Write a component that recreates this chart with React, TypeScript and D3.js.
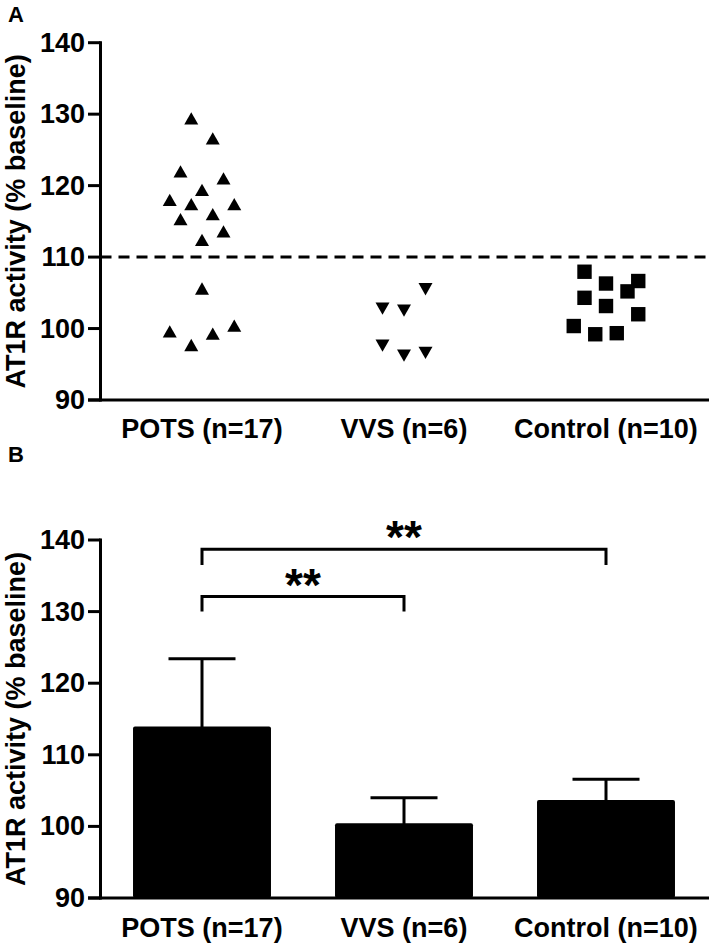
import React from "react";
import * as d3 from "d3";

// ---------- DATA ----------
const categories = ["POTS (n=17)", "VVS (n=6)", "Control (n=10)"];

// Panel A individual values
const potsValues = [129.4, 126.6, 122.0, 121.0, 119.4, 118.0, 117.4, 117.4, 116.0, 115.3, 113.6, 112.4, 105.6, 99.6, 97.7, 99.3, 100.4];
const potsSlots = [-1, 1, -2, 2, 0, -3, -1, 3, 1, -2, 2, 0, 0, -3, -1, 1, 3];
const vvsValues = [105.5, 102.8, 102.5, 97.6, 96.2, 96.6];
const vvsSlots = [2, -2, 0, -2, 0, 2];
const controlValues = [107.95, 106.3, 106.65, 105.2, 104.3, 103.15, 102.0, 100.35, 99.2, 99.35];
const controlSlots = [-2, 0, 3, 2, -2, 0, 3, -3, -1, 1];
const thresholdValue = 110;

// Panel B means and SD
const barMeans = [113.8, 100.3, 103.55];
const barSD = [9.6, 3.7, 3.05];

// significance comparisons (from index, to index, bracket level, leg end, label)
const compFrom = [0, 0];
const compTo = [2, 1];
const compLevel = [138.7, 132.1];
const compLegEnd = [136.5, 130.0];
const compLabel = ["**", "**"];

const yTicks = [90, 100, 110, 120, 130, 140];
const yTitle = "AT1R activity (% baseline)";
const panelLabels = ["A", "B"];

// ---------- LAYOUT ----------
const W = 709;
const H = 943;
const axisX = 100.5;
const FONT = "'Liberation Sans', Arial, Helvetica, sans-serif";
const slotPx = 10.75;

const xBand = d3.scaleBand<string>().domain(categories).range([101, 707]);
const xBar = d3
  .scaleBand<string>()
  .domain(categories)
  .range([101, 707])
  .paddingInner(0.317)
  .paddingOuter(0.1585);
const cx = (c: string) => (xBand(c) as number) + xBand.bandwidth() / 2;

const yA = d3.scaleLinear().domain([90, 140]).range([400, 42.7]);
const yB = d3.scaleLinear().domain([90, 140]).range([898, 540]);

const triUp = (s: number, h: number) => `M0,${-h / 2}L${s / 2},${h / 2}L${-s / 2},${h / 2}Z`;
const triDown = (s: number, h: number) => `M0,${h / 2}L${s / 2},${-h / 2}L${-s / 2},${-h / 2}Z`;

function YAxis({ y, top, bottom }: { y: d3.ScaleLinear<number, number>; top: number; bottom: number }) {
  return (
    <g>
      <line x1={axisX} x2={axisX} y1={top - 1.5} y2={bottom + 1.5} stroke="#000" strokeWidth={3} />
      {yTicks.map((t) => (
        <g key={t}>
          <line x1={88} x2={axisX} y1={y(t)} y2={y(t)} stroke="#000" strokeWidth={3} />
          <text
            x={85}
            y={y(t)}
            textAnchor="end"
            dominantBaseline="central"
            fontFamily={FONT}
            fontWeight="bold"
            fontSize={27}
            fill="#000"
          >
            {t}
          </text>
        </g>
      ))}
      <line x1={88} x2={W} y1={bottom} y2={bottom} stroke="#000" strokeWidth={3} />
      <text
        transform={`translate(25,${(top + bottom) / 2}) rotate(-90)`}
        textAnchor="middle"
        fontFamily={FONT}
        fontWeight="bold"
        fontSize={27}
        fill="#000"
      >
        {yTitle}
      </text>
    </g>
  );
}

function CatLabels({ yPos }: { yPos: number }) {
  return (
    <g>
      {categories.map((c) => (
        <text
          key={c}
          x={cx(c)}
          y={yPos}
          textAnchor="middle"
          fontFamily={FONT}
          fontWeight="bold"
          fontSize={27}
          fill="#000"
        >
          {c}
        </text>
      ))}
    </g>
  );
}

export default function App() {
  const groups = [
    { values: potsValues, slots: potsSlots, cat: categories[0], kind: "up" },
    { values: vvsValues, slots: vvsSlots, cat: categories[1], kind: "down" },
    { values: controlValues, slots: controlSlots, cat: categories[2], kind: "square" },
  ];
  return (
    <svg
      width={W}
      height={H}
      viewBox={`0 0 ${W} ${H}`}
      style={{ position: "absolute", left: 0, top: 0, background: "#fff" }}
    >
      <rect width={W} height={H} fill="#fff" />
      {/* Panel A */}
      <text x={8} y={22} fontFamily={FONT} fontWeight="bold" fontSize={22} fill="#000">
        {panelLabels[0]}
      </text>
      <line
        x1={axisX}
        x2={W}
        y1={yA(thresholdValue)}
        y2={yA(thresholdValue)}
        stroke="#000"
        strokeWidth={3}
        strokeDasharray="11 7"
      />
      <YAxis y={yA} top={yA(140)} bottom={yA(90)} />
      {groups.map((g) =>
        g.values.map((v, i) => {
          const px = cx(g.cat) + g.slots[i] * slotPx;
          const py = yA(v);
          if (g.kind === "square")
            return <rect key={g.cat + i} x={px - 7.2} y={py - 7.2} width={14.4} height={14.4} fill="#000" />;
          return (
            <path
              key={g.cat + i}
              transform={`translate(${px},${py})`}
              d={g.kind === "up" ? triUp(14, 12.3) : triDown(14, 12.3)}
              fill="#000"
            />
          );
        })
      )}
      <CatLabels yPos={438} />

      {/* Panel B */}
      <text x={8} y={462} fontFamily={FONT} fontWeight="bold" fontSize={22} fill="#000">
        {panelLabels[1]}
      </text>
      {categories.map((c, i) => {
        const x0 = xBar(c) as number;
        const bw = xBar.bandwidth();
        const top = yB(barMeans[i]);
        const errTop = yB(barMeans[i] + barSD[i]);
        return (
          <g key={c}>
            <line x1={cx(c)} x2={cx(c)} y1={errTop} y2={top} stroke="#000" strokeWidth={3} />
            <line x1={cx(c) - 33.5} x2={cx(c) + 33.5} y1={errTop} y2={errTop} stroke="#000" strokeWidth={3} />
            <rect x={x0} y={top - 1} width={bw} height={yB(90) - top + 1} rx={2} fill="#000" />
          </g>
        );
      })}
      <YAxis y={yB} top={yB(140)} bottom={yB(90)} />
      {compFrom.map((f, i) => {
        const x1 = cx(categories[f]);
        const x2 = cx(categories[compTo[i]]);
        const yl = yB(compLevel[i]);
        const ye = yB(compLegEnd[i]);
        return (
          <g key={i}>
            <path
              d={`M${x1},${ye}V${yl}H${x2}V${ye}`}
              fill="none"
              stroke="#000"
              strokeWidth={3}
              strokeLinejoin="miter"
            />
            <text
              x={(x1 + x2) / 2}
              y={yl + 4}
              textAnchor="middle"
              fontFamily={FONT}
              fontWeight="bold"
              fontSize={46}
              fill="#000"
            >
              {compLabel[i]}
            </text>
          </g>
        );
      })}
      <CatLabels yPos={937} />
    </svg>
  );
}
